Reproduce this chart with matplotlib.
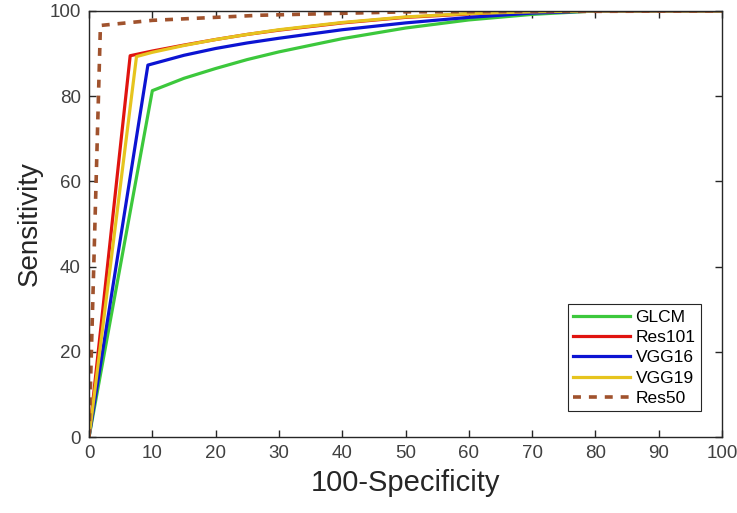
import numpy as np
import matplotlib.pyplot as plt

plt.rcParams['font.family'] = ['Liberation Sans', 'DejaVu Sans']

# ROC points (100-Specificity, Sensitivity)
glcm_x = [0, 10, 15, 20, 25, 30, 40, 50, 60, 70, 80, 100]
glcm_y = [0, 81.3, 84.2, 86.5, 88.6, 90.4, 93.5, 96.0, 97.9, 99.2, 100, 100]

res101_x = [0, 6.5, 10, 15, 20, 25, 30, 40, 50, 60, 70, 80, 100]
res101_y = [0, 89.5, 90.6, 92.0, 93.3, 94.5, 95.5, 97.2, 98.5, 99.3, 99.8, 100, 100]

vgg16_x = [0, 9.3, 15, 20, 25, 30, 40, 50, 60, 70, 80, 100]
vgg16_y = [0, 87.3, 89.6, 91.2, 92.5, 93.6, 95.6, 97.2, 98.5, 99.5, 100, 100]

vgg19_x = [0, 7.5, 10, 15, 20, 25, 30, 40, 50, 60, 70, 80, 100]
vgg19_y = [0, 89.3, 90.3, 91.9, 93.3, 94.5, 95.6, 97.3, 98.6, 99.4, 99.8, 100, 100]

res50_x = [0, 1.8, 10, 27, 50, 100]
res50_y = [0, 96.6, 97.8, 99.0, 99.8, 100]

fig = plt.figure(figsize=(7.37, 5.13), dpi=100)
ax = fig.add_axes([0.1208, 0.148, 0.8589, 0.8306])

lw = 2.3
ax.plot(glcm_x, glcm_y, color='#3cc83c', lw=lw, label='GLCM')
ax.plot(res101_x, res101_y, color='#e0140f', lw=lw, label='Res101')
ax.plot(vgg16_x, vgg16_y, color='#0c14d2', lw=lw, label='VGG16')
ax.plot(vgg19_x, vgg19_y, color='#e6c41e', lw=lw, label='VGG19')
ax.plot(res50_x, res50_y, color='#a0522d', lw=2.6, ls=(0, (2.2, 2.2)), label='Res50')

ax.set_xlim(0, 100)
ax.set_ylim(0, 100)
ax.set_xticks(range(0, 101, 10))
ax.set_yticks(range(0, 101, 20))
ax.tick_params(direction='in', top=True, right=True, length=5, width=1, pad=6,
               labelsize=13.5, labelcolor='#404040', color='#262626')
for s in ax.spines.values():
    s.set_color('#262626')
    s.set_linewidth(1)

ax.set_xlabel('100-Specificity', fontsize=21, color='#262626', labelpad=5)
ax.set_ylabel('Sensitivity', fontsize=20, color='#262626', labelpad=5)

leg = ax.legend(loc='lower right', bbox_to_anchor=(0.98, 0.04), fontsize=12.5,
                handlelength=3.3, fancybox=False, edgecolor='#262626',
                framealpha=1, borderpad=0.3, labelspacing=0.3, handletextpad=0.3)
leg.get_frame().set_linewidth(0.8)

plt.savefig('out.png', dpi=100)
